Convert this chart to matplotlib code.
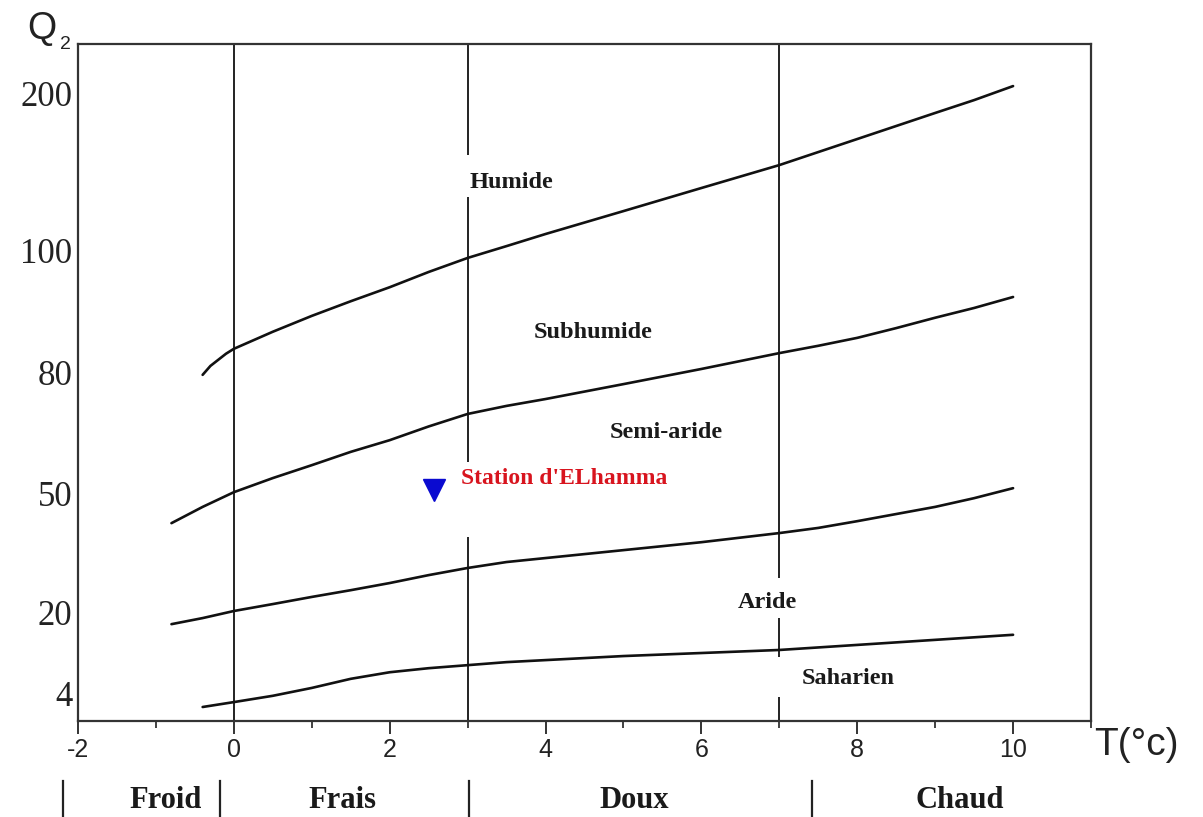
import numpy as np
import matplotlib
matplotlib.use("Agg")
import matplotlib.pyplot as plt
import matplotlib.transforms as mtransforms
from matplotlib.ticker import MultipleLocator, FixedLocator

# Emberger climagram: Q2 vs mean minimum temperature of the coldest month
q_ticks = [4, 20, 50, 80, 100, 200]
# the Q2 axis of the original is not linear, it is stretched piece by piece
q_anchor = [0, 4, 20, 50, 80, 100, 200, 231]
pos_anchor = [0, 28, 109, 228, 349, 471, 628, 677]

# bioclimatic boundaries (T in degC, Q2)
t1 = [-0.4, -0.3, -0.2, -0.1, 0, 0.5, 1, 1.5, 2, 2.5, 3, 3.5, 4, 5, 6, 7, 7.5, 8, 8.5, 9, 9.5, 10]
q1 = [79.3, 81.0, 82.0, 83.0, 83.8, 86.6, 89.2, 91.6, 93.9, 96.4, 98.7, 102.5, 110.2, 124.8,
      139.5, 154.1, 162.4, 170.7, 179.0, 187.3, 195.5, 204.4]
t2 = [-0.8, -0.4, 0, 0.5, 1, 1.5, 2, 2.5, 3, 3.5, 4, 5, 6, 7, 7.5, 8, 8.5, 9, 9.5, 10]
q2 = [42.4, 46.5, 50.2, 53.7, 56.9, 60.2, 63.1, 66.5, 69.6, 71.6, 73.3, 77.0, 80.5, 83.1,
      84.3, 85.6, 87.2, 88.9, 90.5, 92.3]
t3 = [-0.8, -0.4, 0, 0.5, 1, 1.5, 2, 2.5, 3, 3.5, 4, 5, 6, 7, 7.5, 8, 8.5, 9, 9.5, 10]
q3 = [17.6, 18.8, 20.25, 22.0, 23.8, 25.5, 27.3, 29.3, 31.1, 32.6, 33.6, 35.6, 37.6, 39.9,
      41.2, 42.9, 44.7, 46.5, 48.7, 51.2]
t4 = [-0.4, 0, 0.5, 1, 1.5, 2, 2.5, 3, 3.5, 4, 5, 6, 7, 8, 9, 10]
q4 = [2.0, 2.7, 3.6, 5.0, 6.8, 8.1, 8.9, 9.5, 10.1, 10.5, 11.3, 11.9, 12.5, 13.5, 14.5, 15.5]

# thermal variant limits, and where each one is interrupted for a label
t_limits = [0, 3, 7]
limit_breaks = [[], [(38.9, 57.7), (133.8, 160.5)], [(3.4, 11.1), (18.8, 28.6)]]

# bioclimatic stage labels
stages = ["Humide", "Subhumide", "Semi-aride", "Aride", "Saharien"]
stage_t = [3.56, 4.61, 5.55, 6.85, 7.89]
stage_q = [143.3, 86.4, 65.1, 22.5, 6.9]

# station
station_name = "Station d'ELhamma"
station_t = 2.57
station_q = 50.7

# winter classes along the T axis
winter = ["Froid", "Frais", "Doux", "Chaud"]
winter_t = [-0.87, 1.39, 5.14, 9.31]
winter_sep = [-2.19, -0.18, 3.02, 7.42]

x_ticks = [-2, 0, 2, 4, 6, 8, 10]


def fwd(q):
    return np.interp(q, q_anchor, pos_anchor)


def inv(p):
    return np.interp(p, pos_anchor, q_anchor)


fig = plt.figure(figsize=(12.03, 8.17), dpi=100)
ax = fig.add_axes([0.0648, 0.1175, 0.8421, 0.8286])
ax.set_yscale('function', functions=(fwd, inv))
ax.set_xlim(-2, 11)
ax.set_ylim(0, 231)

for t, q in [(t1, q1), (t2, q2), (t3, q3), (t4, q4)]:
    ax.plot(t, q, color='#111111', lw=1.9, solid_capstyle='round', zorder=2)

# vertical limits drawn piece by piece between their breaks
for t, breaks in zip(t_limits, limit_breaks):
    lo = 0
    for b0, b1 in sorted(breaks):
        ax.vlines(t, lo, b0, color='#222222', lw=1.4, zorder=1)
        lo = b1
    ax.vlines(t, lo, 231, color='#222222', lw=1.4, zorder=1)

for name, t, q in zip(stages, stage_t, stage_q):
    ax.text(t, q, name, ha='center', va='center', fontsize=17.5, fontweight='bold',
            family='Liberation Serif', color='#1a1a1a', zorder=3)

ax.plot([station_t], [station_q], marker='v', ms=16, color='#0a0ad0', ls='none', zorder=6)
ax.text(station_t + 0.35, station_q + 2.8, station_name, ha='left', va='center',
        fontsize=17, fontweight='bold', family='Liberation Serif', color='#d8141e',
        zorder=4)

for s in ax.spines.values():
    s.set_color('#333333')
    s.set_linewidth(1.6)

ax.xaxis.set_minor_locator(MultipleLocator(1))
ax.set_xticks(x_ticks)
ax.set_xticklabels([str(v) for v in x_ticks])
ax.tick_params(axis='x', which='major', direction='out', length=9, width=1.4,
               color='#333333', labelsize=18, pad=3)
ax.tick_params(axis='x', which='minor', direction='out', length=5, width=1.3,
               color='#333333')
for lab in ax.get_xticklabels():
    lab.set_family('Liberation Sans')
    lab.set_color('#222222')

ax.yaxis.set_major_locator(FixedLocator(q_ticks))
ax.yaxis.set_minor_locator(FixedLocator([]))
ax.set_yticklabels([str(v) for v in q_ticks])
ax.tick_params(axis='y', length=0, labelsize=25, pad=4)
for lab in ax.get_yticklabels():
    lab.set_family('Liberation Serif')
    lab.set_color('#222222')

fig.text(0.023, 0.965, 'Q', fontsize=27, family='Liberation Sans', color='#222222',
         ha='left', va='center')
fig.text(0.050, 0.945, '2', fontsize=14, family='Liberation Sans', color='#222222',
         ha='left', va='center')
ax.text(1.003, -0.035, 'T(°c)', transform=ax.transAxes, fontsize=28,
        family='Liberation Sans', color='#222222', ha='left', va='center')

trans = mtransforms.blended_transform_factory(ax.transData, ax.transAxes)
for name, t in zip(winter, winter_t):
    ax.text(t, -0.118, name, transform=trans, ha='center', va='center', fontsize=22,
            fontweight='bold', family='Liberation Serif', color='#1a1a1a')
for t in winter_sep:
    ax.plot([t, t], [-0.088, -0.145], transform=trans, color='#222222', lw=1.6,
            clip_on=False)

fig.savefig('out.png', dpi=100, facecolor='white')
